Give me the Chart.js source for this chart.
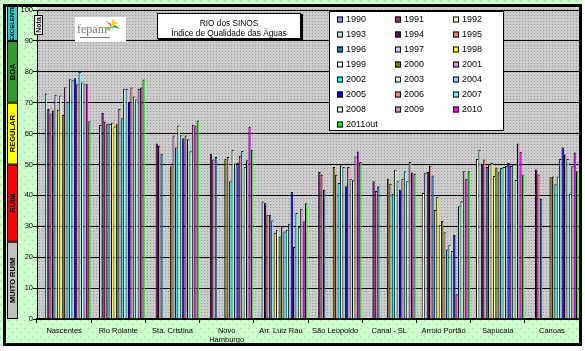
<!DOCTYPE html>
<html>
<head>
<meta charset="utf-8">
<script src="https://cdn.jsdelivr.net/npm/chart.js@4.4.0/dist/chart.umd.min.js"></script>
<style>
  html, body { margin: 0; padding: 0; background: #fff; }
</style>
</head>
<body>
<canvas id="grafico" width="585" height="351"></canvas>
<script>
// pontos de monitoramento
const locais = ['Nascentes', 'Rio Rolante', 'Sta. Cristina', ['Novo', 'Hamburgo'], 'Arr. Luiz Rau',
                'São Leopoldo', 'Canal - SL', 'Arroio Portão', 'Sapucaia', 'Canoas'];
const anos = ['1990','1991','1992','1993','1994','1995','1996','1997','1998','1999','2000',
              '2001','2002','2003','2004','2005','2006','2007','2008','2009','2010','2011out'];

// IQA por local, na ordem dos anos acima
const nascentes   = [null, null, null, 73, 68, 66.5, 67.5, 72.6, 67.7, 72.3, 66, 75, 70.3, 77.6, 77.3, 77.9, 76, 80, 76.5, 76.2, 76, 64];
const rioRolante  = [null, null, null, 62.8, 66.7, 63.9, 63.2, 63.2, 63.5, 62.3, 63, 68, 65, 74.5, 74.5, 70.3, 74.9, 72, 71, 74.5, 74.9, 77.5];
const staCristina = [null, null, null, null, 56.8, 56.1, 53.5, null, null, null, 49.4, 59.4, 55.5, 62.6, 59.5, 58.5, 59.4, 58.2, 54.3, 62.9, 62.6, 64.2];
const novoHamb    = [null, null, null, null, 53.5, 51.6, 52.4, null, null, null, 51.9, 52.4, 44.6, 54.8, 50.3, 50.5, 52.8, 54.4, 49.3, 51.4, 62.2, 54.8];
const luizRau     = [null, null, null, 38, 37.6, 33.7, 33.7, 31.9, 27.9, 28.9, 26.7, 29.7, 28.3, 28.9, 30.8, 41.1, 23.3, 34.3, 29.7, 35.7, 31.6, 37.5];
const saoLeopoldo = [null, null, null, null, 47.6, 46.7, 41.8, null, null, null, 49.2, 46.7, 44, 49.7, 49.2, 43, 49.2, 45.4, 44.9, 52.6, 54.2, 50.8];
const canalSL     = [null, null, null, null, 44.6, 41.4, 43, null, null, null, 45.4, 43.8, 40.5, 48.3, 44.6, 41.8, 45.4, 47.8, 44.6, 50.8, 47.4, 47];
const arroioPortao= [null, null, 40.8, 47.3, 47.6, 49.6, 46.4, 35.3, 39.6, 30.3, 31.7, 28.1, 22.5, 24, 22, 27.2, 8, 36.5, 38.1, 47.8, 45.4, 47.8];
const sapucaia    = [null, null, 51.8, 54.8, 50, 51.6, 49.2, 50, 50.5, 46.3, 49, 47.5, 48.9, 49.2, 49.5, 50.5, 49.5, 50, 45, 56.8, 54.1, 46.5];
const canoas      = [null, null, null, null, 48.4, 46.8, 38.9, null, null, null, 45.9, 46.1, 43.6, 46.1, 51.8, 55.5, 53.2, 51.8, 40.5, 49.4, 53.9, 47.8];

const porLocal = [nascentes, rioRolante, staCristina, novoHamb, luizRau, saoLeopoldo, canalSL, arroioPortao, sapucaia, canoas];

const cores = ['#8F8FF5','#993366','#FFFFCC','#A8E6E6','#660066','#F08080','#1A80C0','#CCCCFF','#FFFF00','#EEFFEE','#808000',
               '#CC99CC','#00FFFF','#CCFFCC','#99CCFF','#0000FF','#FF7F7F','#66FFFF','#CCFFCC','#CC99CC','#FF00FF','#00FF00'];

const datasets = anos.map((ano, j) => ({
  label: ano,
  data: porLocal.map(l => l[j]),
  backgroundColor: cores[j],
  borderColor: '#000',
  borderWidth: { left: 1, top: 1, right: 0, bottom: 0 },
  borderSkipped: false,
  categoryPercentage: 0.98,
  barPercentage: 1
}));

function padrao(fundo, ponto, passo, duplo) {
  const c = document.createElement('canvas');
  c.width = c.height = passo;
  const x = c.getContext('2d');
  x.fillStyle = fundo; x.fillRect(0, 0, passo, passo);
  x.fillStyle = ponto; x.fillRect(0, 0, 1, 1);
  if (duplo) x.fillRect(passo / 2, passo / 2, 1, 1);
  return x.createPattern(c, 'repeat');
}

const fundoPlugin = {
  id: 'fundo',
  beforeDraw(chart) {
    const ctx = chart.ctx, a = chart.chartArea;
    ctx.save();
    ctx.fillStyle = '#fff';
    ctx.fillRect(0, 0, chart.width, chart.height);
    ctx.fillStyle = padrao('#CCFFCC', '#99D699', 8, true);
    ctx.fillRect(0, 0, 582, 346);
    ctx.fillStyle = padrao('#CCCCCC', '#999999', 3);
    ctx.fillRect(a.left, a.top - 4, a.right - a.left, a.bottom - a.top + 4);
    ctx.restore();
  },
  afterDraw(chart) {
    const ctx = chart.ctx, a = chart.chartArea, y = chart.scales.y;
    ctx.save();

    // faixas de qualidade
    const faixas = [
      ['EXCELENTE', '#33CCCC', 101.5, 90, 6],
      ['BOA', '#339933', 90, 70, 7.5],
      ['REGULAR', '#FFFF00', 70, 50, 7.5],
      ['RUIM', '#FF0000', 50, 25, 7.5],
      ['MUITO RUIM', '#C0C0C0', 25, 0, 7.5]
    ];
    faixas.forEach(([txt, cor, de, ate, tam]) => {
      const y1 = y.getPixelForValue(de), y2 = y.getPixelForValue(ate);
      ctx.fillStyle = cor;
      ctx.fillRect(7, y1, 11, y2 - y1);
      ctx.strokeStyle = '#000'; ctx.lineWidth = 1;
      ctx.strokeRect(7.5, y1 + 0.5, 10, y2 - y1 - 1);
      ctx.save();
      ctx.translate(12.8, (y1 + y2) / 2);
      ctx.rotate(-Math.PI / 2);
      ctx.fillStyle = '#000';
      ctx.font = 'bold ' + tam + 'px Arial';
      ctx.textAlign = 'center'; ctx.textBaseline = 'middle';
      ctx.fillText(txt, 0, 0);
      ctx.restore();
    });

    // moldura
    ctx.strokeStyle = '#000'; ctx.lineWidth = 3;
    ctx.strokeRect(4.5, 5.5, 576, 339);

    // caixa do título
    ctx.fillStyle = '#000';
    ctx.fillRect(158, 14, 145, 27);
    ctx.fillStyle = '#fff';
    ctx.fillRect(157, 13, 143, 25);
    ctx.lineWidth = 1;
    ctx.strokeRect(157.5, 13.5, 143, 25);
    ctx.fillStyle = '#000';
    ctx.font = '8.3px Arial';
    ctx.textAlign = 'center'; ctx.textBaseline = 'middle';
    ctx.fillText('RIO dos SINOS', 229, 24);
    ctx.fillText('Índice de Qualidade das Águas', 229, 34);

    // legenda
    ctx.fillStyle = '#fff';
    ctx.fillRect(329, 11, 174, 119);
    ctx.strokeStyle = '#000';
    ctx.strokeRect(329.5, 11.5, 174, 119);
    ctx.font = '9px Arial';
    ctx.textAlign = 'left';
    chart.data.datasets.forEach((ds, i) => {
      const col = i % 3, row = Math.floor(i / 3);
      const sx = 337 + col * 58, cy = 19.5 + row * 15;
      ctx.fillStyle = ds.backgroundColor;
      ctx.fillRect(sx, cy - 3, 6, 6);
      ctx.strokeRect(sx + 0.5, cy - 2.5, 5, 5);
      ctx.fillStyle = '#000';
      ctx.fillText(ds.label, sx + 9, cy + 0.5);
    });

    // "Nota"
    ctx.fillStyle = '#fff';
    ctx.fillRect(34, 15, 9, 20);
    ctx.strokeRect(34.5, 15.5, 8, 19);
    ctx.save();
    ctx.translate(39, 25);
    ctx.rotate(-Math.PI / 2);
    ctx.fillStyle = '#000';
    ctx.font = 'bold 7px Arial';
    ctx.textAlign = 'center'; ctx.textBaseline = 'middle';
    ctx.fillText('Nota', 0, 0);
    ctx.restore();

    // logotipo
    ctx.fillStyle = '#fff';
    ctx.fillRect(75, 17, 51, 25);
    ctx.fillStyle = '#777';
    ctx.font = '12px "Liberation Serif", serif';
    ctx.textAlign = 'left'; ctx.textBaseline = 'alphabetic';
    ctx.fillText('fepam', 77, 33);
    ctx.fillRect(80, 37, 30, 1);
    const petalas = [['#E53935', 108, 22], ['#FDD835', 115, 21], ['#43A047', 118, 27], ['#1E88E5', 112, 28], ['#8BC34A', 106, 29]];
    petalas.forEach(([c, px, py]) => {
      ctx.fillStyle = c;
      ctx.beginPath();
      ctx.moveTo(112, 27); ctx.lineTo(px - 3, py - 2); ctx.lineTo(px + 3, py + 2);
      ctx.closePath(); ctx.fill();
    });
    ctx.restore();
  }
};

new Chart(document.getElementById('grafico'), {
  type: 'bar',
  data: { labels: locais, datasets: datasets },
  options: {
    responsive: false,
    animation: false,
    devicePixelRatio: 1,
    layout: { padding: { top: 10, right: 6, bottom: 0, left: 0 } },
    plugins: { legend: { display: false }, tooltip: { enabled: false } },
    scales: {
      x: {
        grid: { drawOnChartArea: false, color: '#000', tickLength: 4, offset: true },
        border: { color: '#000', width: 2 },
        ticks: { color: '#000', font: { family: 'Arial', size: 7.5 }, maxRotation: 0, autoSkip: false, padding: 3 },
        afterFit: s => { s.height = 32; }
      },
      y: {
        min: 0, max: 100,
        ticks: { stepSize: 10, color: '#000', font: { family: 'Arial', size: 7.5 }, padding: 0 },
        grid: { color: '#000', tickLength: 4 },
        border: { color: '#000' },
        afterFit: s => { s.width = 37; }
      }
    }
  },
  plugins: [fundoPlugin]
});
</script>
</body>
</html>
